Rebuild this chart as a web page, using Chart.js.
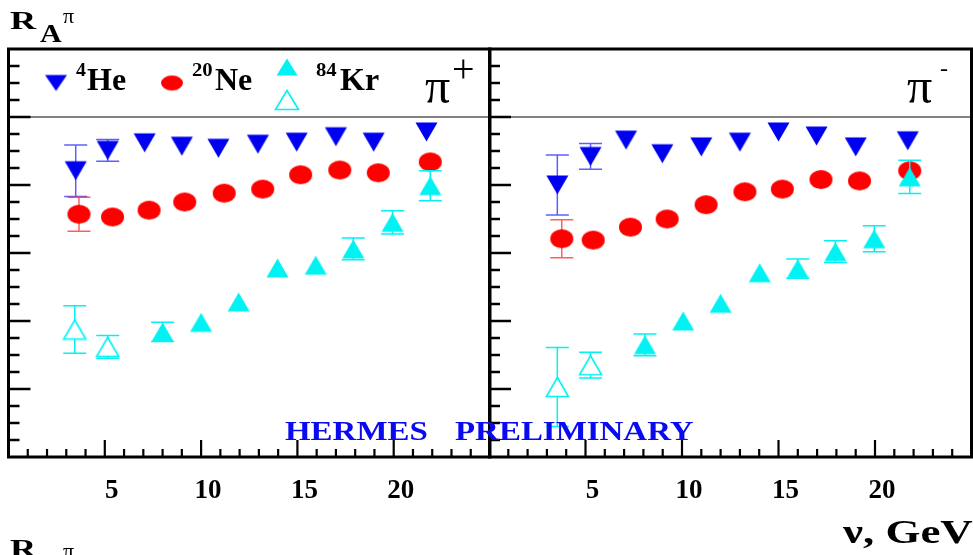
<!DOCTYPE html>
<html><head><meta charset="utf-8">
<script src="https://cdn.jsdelivr.net/npm/chart.js@4"></script>
<style>
html,body{margin:0;padding:0;background:#fff;}
#wrap{position:relative;width:973px;height:555px;overflow:hidden;background:#fff;}
canvas{position:absolute;top:0;}
.t{position:absolute;white-space:pre;font-family:"Liberation Serif","Times New Roman",serif;font-weight:bold;color:#000;line-height:1;transform-origin:0 0;}
.r{font-weight:normal;}
.b{color:#0a0af0;}
</style></head>
<body><div id="wrap">
<canvas id="cPlus" width="492" height="555" style="left:0;width:492px;height:555px"></canvas>
<canvas id="cMinus" width="485" height="555" style="left:488px;width:485px;height:555px"></canvas>
<span class="t" style="left:10px;top:8px;font-size:25px;transform:scaleX(1.45)">R</span>
<span class="t" style="left:40px;top:21px;font-size:25px;transform:scaleX(1.2)">A</span>
<span class="t r" style="left:63px;top:5px;font-size:22px;">π</span>
<span class="t" style="left:10px;top:536px;font-size:25px;transform:scaleX(1.45)">R</span>
<span class="t r" style="left:63px;top:540px;font-size:22px;">π</span>
<span class="t" style="left:843px;top:516px;font-size:33px;transform:scaleX(1.36)">ν, GeV</span>
<span class="t b" style="left:285px;top:418px;font-size:27px;transform:scaleX(1.22)">HERMES</span>
<span class="t b" style="left:455px;top:418px;font-size:27px;transform:scaleX(1.22)">PRELIMINARY</span>
</div>
<script>
// ---------- data ----------
// pi+ panel
const NU_HE_PLUS = [3.49, 5.15, 7.07, 9.0, 10.9, 12.95, 14.96, 17.0, 18.96, 21.7];
const R_HE_PLUS  = [0.921, 0.951, 0.962, 0.957, 0.954, 0.960, 0.963, 0.971, 0.963, 0.978];
const E_HE_PLUS  = [0.038, 0.016, 0, 0, 0, 0, 0, 0, 0, 0];
const NU_NE_PLUS = [3.66, 5.4, 7.3, 9.15, 11.2, 13.2, 15.17, 17.2, 19.2, 21.9];
const R_NE_PLUS  = [0.857, 0.853, 0.863, 0.875, 0.888, 0.894, 0.915, 0.922, 0.918, 0.934];
const E_NE_PLUS  = [0.025, 0, 0, 0, 0, 0, 0, 0, 0, 0];
const NU_KR_OPEN_PLUS = [3.44, 5.15];
const R_KR_OPEN_PLUS  = [0.6875, 0.662];
const E_KR_OPEN_PLUS  = [0.035, 0.0166];
const NU_KR_PLUS = [8.0, 10.0, 11.95, 13.97, 15.95, 17.9, 19.94, 21.9];
const R_KR_PLUS  = [0.684, 0.698, 0.728, 0.778, 0.782, 0.806, 0.845, 0.899];
const E_KR_PLUS  = [0.014, 0, 0, 0, 0, 0.016, 0.017, 0.022];
// pi- panel
const NU_HE_MINUS = [3.54, 5.26, 7.1, 8.98, 11.0, 13.0, 15.0, 16.97, 19.0, 21.7];
const R_HE_MINUS  = [0.900, 0.942, 0.966, 0.946, 0.956, 0.963, 0.978, 0.972, 0.956, 0.965];
const E_HE_MINUS  = [0.044, 0.019, 0, 0, 0, 0, 0, 0, 0, 0];
const NU_NE_MINUS = [3.77, 5.4, 7.33, 9.23, 11.25, 13.26, 15.2, 17.2, 19.2, 21.8];
const R_NE_MINUS  = [0.821, 0.819, 0.838, 0.850, 0.871, 0.890, 0.894, 0.908, 0.906, 0.921];
const E_NE_MINUS  = [0.028, 0, 0, 0, 0, 0, 0, 0, 0, 0];
const NU_KR_OPEN_MINUS = [3.54, 5.26];
const R_KR_OPEN_MINUS  = [0.603, 0.635];
const E_KR_OPEN_MINUS  = [0.058, 0.019];
const NU_KR_MINUS = [8.08, 10.06, 12.0, 14.03, 16.0, 17.95, 19.96, 21.8];
const R_KR_MINUS  = [0.665, 0.700, 0.726, 0.771, 0.777, 0.802, 0.821, 0.912];
const E_KR_MINUS  = [0.016, 0, 0, 0, 0.014, 0.016, 0.019, 0.0245];
// axes
const X_MIN = 0, X_MAX = 25, X_MINOR = 1, X_MAJOR = 5;
const X_TICK_LABELS = [5, 10, 15, 20];
const Y_MIN = 0.5, Y_MAX = 1.1, Y_MINOR = 0.025, Y_MAJOR = 0.1;
const REF_NU = [0, 25];
const REF_R = [1, 1];
const LEGEND_LABELS = [{sup:'4', name:'He'}, {sup:'20', name:'Ne'}, {sup:'84', name:'Kr'}];

// ---------- markers ----------
const BLUE = '#0000f0', RED = '#ff0000', CYAN = '#00f2f2';
function triMarker(w, h, down, fill, stroke, lw) {
  const c = document.createElement('canvas');
  c.width = w + 3; c.height = h + 3;
  const g = c.getContext('2d');
  const o = 1.5;
  g.beginPath();
  if (down) { g.moveTo(o, o); g.lineTo(o + w, o); g.lineTo(o + w / 2, o + h); }
  else { g.moveTo(o + w / 2, o); g.lineTo(o + w, o + h); g.lineTo(o, o + h); }
  g.closePath();
  g.fillStyle = fill; g.fill();
  if (stroke) { g.lineWidth = lw; g.strokeStyle = stroke; g.lineJoin = 'miter'; g.stroke(); }
  return c;
}
function ellMarker(w, h, fill) {
  const c = document.createElement('canvas');
  c.width = w + 2; c.height = h + 2;
  const g = c.getContext('2d');
  g.beginPath(); g.ellipse(c.width / 2, c.height / 2, w / 2, h / 2, 0, 0, Math.PI * 2);
  g.fillStyle = fill; g.fill();
  return c;
}
const M_HE = triMarker(22, 19, true, BLUE);
const M_NE = ellMarker(23, 19, RED);
const M_KR = triMarker(22, 19, false, CYAN);
const M_KR_OPEN = triMarker(22, 19, false, '#ffffff', CYAN, 1.6);
const L_HE = triMarker(22, 16, true, BLUE);
const L_NE = ellMarker(22, 15, RED);
const L_KR = triMarker(21, 17, false, CYAN);
const L_KR_OPEN = triMarker(23, 19, false, '#ffffff', CYAN, 1.6);

function pts(xs, ys) { return xs.map((x, i) => ({x: x, y: ys[i]})); }

// ---------- plugins ----------
const errorBars = {
  id: 'errorBars',
  beforeDatasetDraw(chart, args) {
    const ds = chart.data.datasets[args.index];
    if (!ds.errors) return;
    const xs = chart.scales.x, ys = chart.scales.y, ctx = chart.ctx, a = chart.chartArea;
    ctx.save();
    ctx.beginPath(); ctx.rect(a.left, a.top, a.right - a.left, a.bottom - a.top); ctx.clip();
    ctx.strokeStyle = ds.errorColor; ctx.lineWidth = 1.5;
    ds.data.forEach((p, i) => {
      const e = ds.errors[i];
      if (!e) return;
      const x = xs.getPixelForValue(p.x);
      const y1 = ys.getPixelForValue(p.y + e), y2 = ys.getPixelForValue(p.y - e);
      ctx.beginPath();
      ctx.moveTo(x, y1); ctx.lineTo(x, y2);
      ctx.moveTo(x - 11.5, y1); ctx.lineTo(x + 11.5, y1);
      ctx.moveTo(x - 11.5, y2); ctx.lineTo(x + 11.5, y2);
      ctx.stroke();
    });
    ctx.restore();
  }
};

function txt(ctx, s, x, base, font, sx, color) {
  ctx.save();
  ctx.font = font; ctx.fillStyle = color || '#000';
  ctx.textBaseline = 'alphabetic'; ctx.textAlign = 'left';
  ctx.translate(x, base); ctx.scale(sx || 1, 1);
  ctx.fillText(s, 0, 0);
  ctx.restore();
}

const frameTicks = {
  id: 'frameTicks',
  afterDatasetsDraw(chart, args, opts) {
    const ctx = chart.ctx, a = chart.chartArea, xs = chart.scales.x, ys = chart.scales.y;
    ctx.save();
    ctx.strokeStyle = '#000';
    ctx.lineWidth = 2.5;
    const ny = Math.round((Y_MAX - Y_MIN) / Y_MINOR);
    for (let k = 1; k < ny; k++) {
      const v = Y_MIN + k * Y_MINOR;
      const major = Math.abs(v / Y_MAJOR - Math.round(v / Y_MAJOR)) < 1e-6;
      const y = ys.getPixelForValue(v);
      ctx.beginPath(); ctx.moveTo(a.left, y); ctx.lineTo(a.left + (major ? 22 : 11), y); ctx.stroke();
    }
    ctx.lineWidth = 2.2;
    for (let v = X_MIN + X_MINOR; v < X_MAX; v += X_MINOR) {
      const major = v % X_MAJOR === 0;
      const x = xs.getPixelForValue(v);
      ctx.beginPath(); ctx.moveTo(x, a.bottom); ctx.lineTo(x, a.bottom - (major ? 17 : 8)); ctx.stroke();
    }
    ctx.lineWidth = 3;
    ctx.strokeRect(a.left, a.top, a.right - a.left, a.bottom - a.top);
    ctx.restore();
    if (opts.draw) opts.draw(ctx);
  }
};

function drawLegendPlus(ctx) {
  ctx.drawImage(L_HE, 56 - L_HE.width / 2, 83 - L_HE.height / 2);
  ctx.drawImage(L_NE, 172 - L_NE.width / 2, 83 - L_NE.height / 2);
  ctx.drawImage(L_KR, 287 - L_KR.width / 2, 67 - L_KR.height / 2);
  ctx.drawImage(L_KR_OPEN, 287 - L_KR_OPEN.width / 2, 100 - L_KR_OPEN.height / 2);
  const supF = 'bold 18px "Liberation Serif", serif', nameF = 'bold 32px "Liberation Serif", serif';
  txt(ctx, LEGEND_LABELS[0].sup, 76, 76, supF, 1.1);
  txt(ctx, LEGEND_LABELS[0].name, 87, 90, nameF, 1);
  txt(ctx, LEGEND_LABELS[1].sup, 192, 76, supF, 1.15);
  txt(ctx, LEGEND_LABELS[1].name, 215, 90, nameF, 1);
  txt(ctx, LEGEND_LABELS[2].sup, 316, 76, supF, 1.15);
  txt(ctx, LEGEND_LABELS[2].name, 340, 90, nameF, 1);
  txt(ctx, 'π', 425, 103, '50px "Liberation Serif", serif', 1);
  txt(ctx, '+', 452, 82, '40px "Liberation Serif", serif', 1);
}
function drawLegendMinus(ctx) {
  txt(ctx, 'π', 419, 103, '50px "Liberation Serif", serif', 1);
  txt(ctx, '-', 452, 76, '24px "Liberation Serif", serif', 1);
}

function makeChart(id, he, ne, krOpen, kr, pad, draw) {
  return new Chart(document.getElementById(id), {
    type: 'scatter',
    data: {
      datasets: [
        {label: 'R = 1', type: 'line', data: pts(REF_NU, REF_R), borderColor: '#5a5a5a', borderWidth: 1.3,
         pointRadius: 0, showLine: true, fill: false, order: 5},
        {label: '4He', data: he.d, errors: he.e, errorColor: 'rgba(40,40,255,0.75)', pointStyle: M_HE, pointRadius: 10, order: 4},
        {label: '20Ne', data: ne.d, errors: ne.e, errorColor: 'rgba(255,40,40,0.75)', pointStyle: M_NE, pointRadius: 10, order: 3},
        {label: '84Kr (open)', data: krOpen.d, errors: krOpen.e, errorColor: CYAN, pointStyle: M_KR_OPEN, pointRadius: 10, order: 2},
        {label: '84Kr', data: kr.d, errors: kr.e, errorColor: CYAN, pointStyle: M_KR, pointRadius: 10, order: 1}
      ]
    },
    options: {
      responsive: false, animation: false, events: [],
      layout: {padding: pad, autoPadding: false},
      plugins: {legend: {display: false}, tooltip: {enabled: false}, frameTicks: {draw: draw}},
      scales: {
        x: {type: 'linear', min: X_MIN, max: X_MAX,
            grid: {display: false, drawTicks: true, tickLength: 18}, border: {display: false},
            ticks: {stepSize: X_MINOR, autoSkip: false, maxRotation: 0, minRotation: 0, padding: 0, labelOffset: 7, color: '#000',
                    font: {family: 'Liberation Serif', weight: 'bold', size: 27, lineHeight: 1.2},
                    callback: (v) => X_TICK_LABELS.includes(v) ? String(v) : ''},
            afterFit: (s) => { s.height = 98; }},
        y: {type: 'linear', min: Y_MIN, max: Y_MAX, display: false}
      }
    },
    plugins: [errorBars, frameTicks]
  });
}

makeChart('cPlus',
  {d: pts(NU_HE_PLUS, R_HE_PLUS), e: E_HE_PLUS},
  {d: pts(NU_NE_PLUS, R_NE_PLUS), e: E_NE_PLUS},
  {d: pts(NU_KR_OPEN_PLUS, R_KR_OPEN_PLUS), e: E_KR_OPEN_PLUS},
  {d: pts(NU_KR_PLUS, R_KR_PLUS), e: E_KR_PLUS},
  {left: 8.5, right: 2, top: 49, bottom: 0}, drawLegendPlus);
makeChart('cMinus',
  {d: pts(NU_HE_MINUS, R_HE_MINUS), e: E_HE_MINUS},
  {d: pts(NU_NE_MINUS, R_NE_MINUS), e: E_NE_MINUS},
  {d: pts(NU_KR_OPEN_MINUS, R_KR_OPEN_MINUS), e: E_KR_OPEN_MINUS},
  {d: pts(NU_KR_MINUS, R_KR_MINUS), e: E_KR_MINUS},
  {left: 1, right: 1.5, top: 49, bottom: 0}, drawLegendMinus);
</script>
</body></html>
